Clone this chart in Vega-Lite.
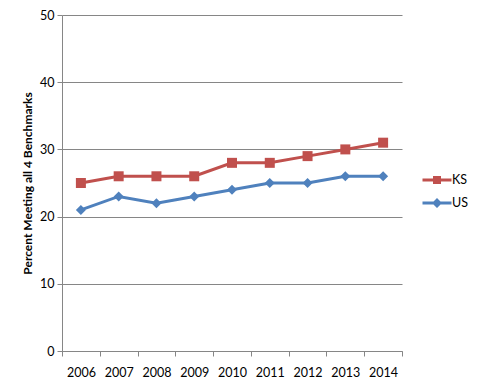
{
  "$schema": "https://vega.github.io/schema/vega-lite/v6.json",
  "width": 340,
  "height": 336,
  "autosize": {"type": "none"},
  "padding": {"left": 62, "top": 15, "right": 79, "bottom": 36},
  "background": "white",
  "config": {"view": {"stroke": null}, "font": "Lato"},
  "data": {
    "values": [
      {"year": 2006, "series": "KS", "pct": 25},
      {"year": 2007, "series": "KS", "pct": 26},
      {"year": 2008, "series": "KS", "pct": 26},
      {"year": 2009, "series": "KS", "pct": 26},
      {"year": 2010, "series": "KS", "pct": 28},
      {"year": 2011, "series": "KS", "pct": 28},
      {"year": 2012, "series": "KS", "pct": 29},
      {"year": 2013, "series": "KS", "pct": 30},
      {"year": 2014, "series": "KS", "pct": 31},
      {"year": 2006, "series": "US", "pct": 21},
      {"year": 2007, "series": "US", "pct": 23},
      {"year": 2008, "series": "US", "pct": 22},
      {"year": 2009, "series": "US", "pct": 23},
      {"year": 2010, "series": "US", "pct": 24},
      {"year": 2011, "series": "US", "pct": 25},
      {"year": 2012, "series": "US", "pct": 25},
      {"year": 2013, "series": "US", "pct": 26},
      {"year": 2014, "series": "US", "pct": 26}
    ]
  },
  "encoding": {
    "y": {
      "field": "pct",
      "type": "quantitative",
      "scale": {"domain": [0, 50], "nice": false},
      "axis": {
        "values": [0, 10, 20, 30, 40, 50],
        "grid": true,
        "gridColor": "#868686",
        "gridOpacity": 1,
        "domainColor": "#868686",
        "tickColor": "#868686",
        "tickSize": 5,
        "labelFontSize": 12.5,
        "labelColor": "#000000",
        "labelPadding": 3,
        "title": "Percent Meeting all 4 Benchmarks",
        "titleFontSize": 12,
        "titleFontWeight": "bold",
        "titleColor": "#000000",
        "titlePadding": 5
      }
    },
    "color": {
      "field": "series",
      "type": "nominal",
      "scale": {"domain": ["KS", "US"], "range": ["#C0504D", "#4F81BD"]},
      "legend": {
        "orient": "none",
        "legendX": 365,
        "legendY": 155,
        "title": null,
        "symbolSize": 400,
        "rowPadding": 6,
        "labelOffset": 5,
        "labelFontSize": 12.5,
        "labelColor": "#000000",
        "encode": {
          "symbols": {
            "update": {
              "shape": {"signal": "datum.value === 'KS' ? 'M-1.45,-0.15H1.45V0.15H-1.45Z M-0.4,-0.4H0.4V0.4H-0.4Z' : 'M-1.45,-0.15H1.45V0.15H-1.45Z M0,-0.5L0.5,0L0,0.5L-0.5,0Z'"},
              "fill": {"signal": "datum.value === 'KS' ? '#C0504D' : '#4F81BD'"},
              "stroke": {"value": "transparent"},
              "strokeWidth": {"value": 0},
              "size": {"value": 400},
              "opacity": {"value": 1}
            }
          }
        }
      }
    }
  },
  "layer": [
    {
      "mark": {"type": "line", "strokeWidth": 3},
      "encoding": {
        "x": {
          "field": "year",
          "type": "quantitative",
          "scale": {"domain": [2005.5, 2014.5], "nice": false, "zero": false},
          "axis": {
            "values": [2006, 2007, 2008, 2009, 2010, 2011, 2012, 2013, 2014],
            "format": "d",
            "ticks": false,
            "grid": false,
            "domainColor": "#868686",
            "labelFontSize": 12.5,
            "labelColor": "#000000",
            "labelPadding": 15,
            "title": null
          }
        }
      }
    },
    {
      "mark": {"type": "point", "filled": true, "opacity": 1, "size": 100},
      "encoding": {
        "x": {
          "field": "year",
          "type": "quantitative",
          "axis": {
            "orient": "bottom",
            "values": [2005.5, 2006.5, 2007.5, 2008.5, 2009.5, 2010.5, 2011.5, 2012.5, 2013.5, 2014.5],
            "labels": false,
            "domain": false,
            "grid": false,
            "tickColor": "#868686",
            "tickSize": 5,
            "title": null
          }
        },
        "shape": {
          "condition": {"test": "datum.series === 'KS'", "value": "square"},
          "value": "diamond"
        }
      }
    }
  ],
  "resolve": {"axis": {"x": "independent"}}
}
